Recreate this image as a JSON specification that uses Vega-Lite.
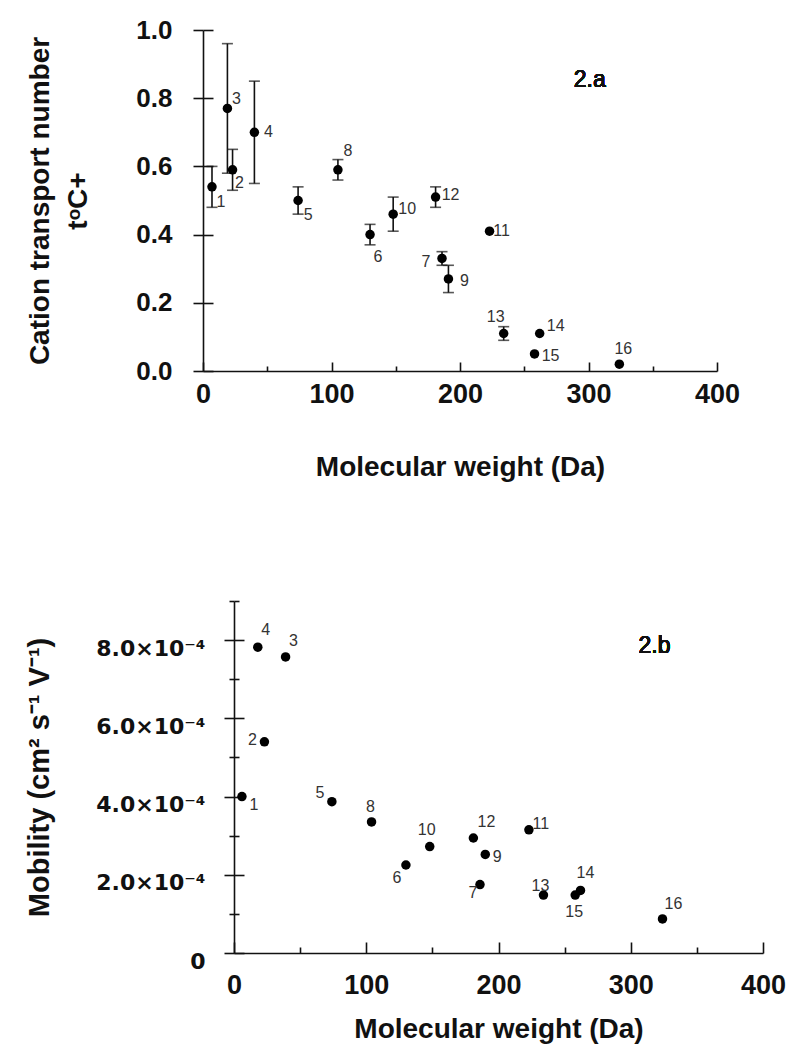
{
  "$schema": "https://vega.github.io/schema/vega-lite/v6.json",
  "background": "white",
  "padding": {"left": 25, "top": 17, "right": 5, "bottom": 5},
  "spacing": 117,
  "config": {
    "view": {"stroke": null},
    "font": "Liberation Sans",
    "axis": {"grid": false, "domainColor": "#111", "tickColor": "#111", "domainWidth": 1.6, "tickWidth": 1.6, "labelColor": "#111", "titleColor": "#111", "labelFont": "Liberation Sans", "titleFont": "Liberation Sans", "labelFontWeight": "bold", "titleFontWeight": "bold", "labelOverlap": false, "labelFlush": false},
    "text": {"font": "Liberation Sans", "fontSize": 16, "fontWeight": "normal", "color": "#333", "align": "center", "baseline": "middle"}
  },
  "datasets": {
    "transport": [
      {"id": 1, "mw": 7, "t": 0.54, "lo": 0.48, "hi": 0.60},
      {"id": 2, "mw": 23, "t": 0.59, "lo": 0.53, "hi": 0.65},
      {"id": 3, "mw": 19, "t": 0.77, "lo": 0.58, "hi": 0.96},
      {"id": 4, "mw": 40, "t": 0.70, "lo": 0.55, "hi": 0.85},
      {"id": 5, "mw": 74, "t": 0.50, "lo": 0.46, "hi": 0.54},
      {"id": 6, "mw": 130, "t": 0.40, "lo": 0.37, "hi": 0.43},
      {"id": 7, "mw": 186, "t": 0.33, "lo": 0.31, "hi": 0.35},
      {"id": 8, "mw": 105, "t": 0.59, "lo": 0.56, "hi": 0.62},
      {"id": 9, "mw": 191, "t": 0.27, "lo": 0.23, "hi": 0.31},
      {"id": 10, "mw": 148, "t": 0.46, "lo": 0.41, "hi": 0.51},
      {"id": 11, "mw": 223, "t": 0.41, "lo": null, "hi": null},
      {"id": 12, "mw": 181, "t": 0.51, "lo": 0.48, "hi": 0.54},
      {"id": 13, "mw": 234, "t": 0.11, "lo": 0.09, "hi": 0.13},
      {"id": 14, "mw": 262, "t": 0.11, "lo": null, "hi": null},
      {"id": 15, "mw": 258, "t": 0.05, "lo": null, "hi": null},
      {"id": 16, "mw": 324, "t": 0.02, "lo": null, "hi": null}
    ],
    "mobility": [
      {"id": 1, "mw": 6, "mobility": 0.000400},
      {"id": 2, "mw": 23, "mobility": 0.000540},
      {"id": 3, "mw": 39, "mobility": 0.000757},
      {"id": 4, "mw": 18, "mobility": 0.000782},
      {"id": 5, "mw": 74, "mobility": 0.000387},
      {"id": 6, "mw": 130, "mobility": 0.000225},
      {"id": 7, "mw": 186, "mobility": 0.000175},
      {"id": 8, "mw": 104, "mobility": 0.000335},
      {"id": 9, "mw": 190, "mobility": 0.000252},
      {"id": 10, "mw": 148, "mobility": 0.000272},
      {"id": 11, "mw": 223, "mobility": 0.000315},
      {"id": 12, "mw": 181, "mobility": 0.000294},
      {"id": 13, "mw": 234, "mobility": 0.000148},
      {"id": 14, "mw": 262, "mobility": 0.000160},
      {"id": 15, "mw": 258, "mobility": 0.000148},
      {"id": 16, "mw": 324, "mobility": 0.000087}
    ]
  },
  "vconcat": [
    {
      "width": 514,
      "height": 341,
      "data": {"name": "transport"},
      "resolve": {"axis": {"y": "independent"}},
      "layer": [
        {
          "encoding": {
            "x": {"field": "mw", "type": "quantitative", "title": "Molecular weight (Da)",
              "scale": {"domain": [0, 400], "nice": false},
              "axis": {"values": [0, 50, 100, 150, 200, 250, 300, 350, 400],
                "labelExpr": "datum.value % 100 == 0 ? datum.label : ''",
                "tickSize": {"condition": {"test": "datum.value % 100 == 0", "value": -9}, "value": -5},
                "labelPadding": 19, "labelFontSize": 27, "titleFontSize": 28, "titlePadding": 42}},
            "y": {"field": "t", "type": "quantitative", "title": ["Cation transport number", "tᵒC+"],
              "scale": {"domain": [0, 1], "nice": false},
              "axis": {"orient": "left", "values": [0, 0.2, 0.4, 0.6, 0.8, 1.0], "format": ".1f", "tickSize": 10,
                "labelPadding": 21, "labelFontSize": 26, "titleFontSize": 28, "titlePadding": 43, "titleLineHeight": 38}}
          },
          "layer": [
            {"transform": [{"filter": "isValid(datum.lo)"}],
             "mark": {"type": "errorbar", "ticks": {"size": 11, "thickness": 1.6, "color": "#111"}, "rule": {"strokeWidth": 1.6, "color": "#111"}},
             "encoding": {"y": {"field": "lo", "type": "quantitative"}, "y2": {"field": "hi"}}},
            {"mark": {"type": "point", "filled": true, "shape": "circle", "size": 90, "color": "#000", "opacity": 1}},
            {"transform": [{"filter": "datum.id == 1"}], "mark": {"type": "text", "dx": 9, "dy": 15}, "encoding": {"text": {"field": "id"}}},
            {"transform": [{"filter": "datum.id == 2"}], "mark": {"type": "text", "dx": 7, "dy": 13}, "encoding": {"text": {"field": "id"}}},
            {"transform": [{"filter": "datum.id == 3"}], "mark": {"type": "text", "dx": 9, "dy": -9}, "encoding": {"text": {"field": "id"}}},
            {"transform": [{"filter": "datum.id == 4"}], "mark": {"type": "text", "dx": 14, "dy": 0}, "encoding": {"text": {"field": "id"}}},
            {"transform": [{"filter": "datum.id == 5"}], "mark": {"type": "text", "dx": 10, "dy": 14}, "encoding": {"text": {"field": "id"}}},
            {"transform": [{"filter": "datum.id == 6"}], "mark": {"type": "text", "dx": 8, "dy": 22}, "encoding": {"text": {"field": "id"}}},
            {"transform": [{"filter": "datum.id == 7"}], "mark": {"type": "text", "dx": -16, "dy": 4}, "encoding": {"text": {"field": "id"}}},
            {"transform": [{"filter": "datum.id == 8"}], "mark": {"type": "text", "dx": 10, "dy": -19}, "encoding": {"text": {"field": "id"}}},
            {"transform": [{"filter": "datum.id == 9"}], "mark": {"type": "text", "dx": 16, "dy": 2}, "encoding": {"text": {"field": "id"}}},
            {"transform": [{"filter": "datum.id == 10"}], "mark": {"type": "text", "dx": 14, "dy": -5}, "encoding": {"text": {"field": "id"}}},
            {"transform": [{"filter": "datum.id == 11"}], "mark": {"type": "text", "dx": 12, "dy": 0}, "encoding": {"text": {"field": "id"}}},
            {"transform": [{"filter": "datum.id == 12"}], "mark": {"type": "text", "dx": 15, "dy": -2}, "encoding": {"text": {"field": "id"}}},
            {"transform": [{"filter": "datum.id == 13"}], "mark": {"type": "text", "dx": -8, "dy": -16}, "encoding": {"text": {"field": "id"}}},
            {"transform": [{"filter": "datum.id == 14"}], "mark": {"type": "text", "dx": 16, "dy": -7}, "encoding": {"text": {"field": "id"}}},
            {"transform": [{"filter": "datum.id == 15"}], "mark": {"type": "text", "dx": 16, "dy": 2}, "encoding": {"text": {"field": "id"}}},
            {"transform": [{"filter": "datum.id == 16"}], "mark": {"type": "text", "dx": 4, "dy": -15}, "encoding": {"text": {"field": "id"}}},
            {"mark": {"type": "text", "fontSize": 23, "fontWeight": "normal", "color": "#111"},
             "encoding": {"x": {"datum": 301}, "y": {"datum": 0.854}, "text": {"value": "2.a"}}}
          ]
        },
        {
          "mark": {"type": "point", "opacity": 0},
          "encoding": {
            "x": {"field": "mw", "type": "quantitative"},
            "y": {"field": "t", "type": "quantitative",
              "axis": {"orient": "left", "values": [0, 0.2, 0.4, 0.6, 0.8, 1.0], "tickSize": -10, "labels": false, "domain": false, "title": null}}
          }
        }
      ]
    },
    {
      "width": 560,
      "height": 352,
      "data": {"name": "mobility"},
      "resolve": {"axis": {"y": "independent"}},
      "layer": [
        {
          "encoding": {
            "x": {"field": "mw", "type": "quantitative", "title": "Molecular weight (Da)",
              "scale": {"domain": [0, 400], "range": [31, 560], "nice": false},
              "axis": {"values": [0, 50, 100, 150, 200, 250, 300, 350, 400],
                "labelExpr": "datum.value % 100 == 0 ? datum.label : ''",
                "tickSize": {"condition": {"test": "datum.value % 100 == 0", "value": -11}, "value": -6},
                "labelPadding": 30, "labelFontSize": 27, "titleFontSize": 28, "titlePadding": 12}},
            "y": {"field": "mobility", "type": "quantitative", "title": "Mobility (cm² s⁻¹ V⁻¹)",
              "scale": {"domain": [0, 0.0009], "nice": false},
              "axis": {"orient": "left", "offset": -31, "values": [0, 0.0001, 0.0002, 0.0003, 0.0004, 0.0005, 0.0006, 0.0007, 0.0008, 0.0009],
                "labelExpr": "datum.value == 0 ? '0' : (round(datum.value * 10000) % 2 == 0 ? format(datum.value * 10000, '.1f') + '×10⁻⁴' : '')",
                "tickSize": {"condition": {"test": "round(datum.value * 10000) % 2 == 0", "value": 10}, "value": 5},
                "labelFont": "DejaVu Sans", "labelPadding": 19, "labelOffset": 8, "labelFontSize": 22, "titleFontSize": 29, "titlePadding": 41}}
          },
          "layer": [
            {"mark": {"type": "point", "filled": true, "shape": "circle", "size": 90, "color": "#000", "opacity": 1}},
            {"transform": [{"filter": "datum.id == 1"}], "mark": {"type": "text", "dx": 12, "dy": 8}, "encoding": {"text": {"field": "id"}}},
            {"transform": [{"filter": "datum.id == 2"}], "mark": {"type": "text", "dx": -12, "dy": -2}, "encoding": {"text": {"field": "id"}}},
            {"transform": [{"filter": "datum.id == 3"}], "mark": {"type": "text", "dx": 8, "dy": -16}, "encoding": {"text": {"field": "id"}}},
            {"transform": [{"filter": "datum.id == 4"}], "mark": {"type": "text", "dx": 8, "dy": -17}, "encoding": {"text": {"field": "id"}}},
            {"transform": [{"filter": "datum.id == 5"}], "mark": {"type": "text", "dx": -12, "dy": -9}, "encoding": {"text": {"field": "id"}}},
            {"transform": [{"filter": "datum.id == 6"}], "mark": {"type": "text", "dx": -9, "dy": 13}, "encoding": {"text": {"field": "id"}}},
            {"transform": [{"filter": "datum.id == 7"}], "mark": {"type": "text", "dx": -7, "dy": 8}, "encoding": {"text": {"field": "id"}}},
            {"transform": [{"filter": "datum.id == 8"}], "mark": {"type": "text", "dx": -1, "dy": -15}, "encoding": {"text": {"field": "id"}}},
            {"transform": [{"filter": "datum.id == 9"}], "mark": {"type": "text", "dx": 12, "dy": 3}, "encoding": {"text": {"field": "id"}}},
            {"transform": [{"filter": "datum.id == 10"}], "mark": {"type": "text", "dx": -3, "dy": -17}, "encoding": {"text": {"field": "id"}}},
            {"transform": [{"filter": "datum.id == 11"}], "mark": {"type": "text", "dx": 12, "dy": -6}, "encoding": {"text": {"field": "id"}}},
            {"transform": [{"filter": "datum.id == 12"}], "mark": {"type": "text", "dx": 13, "dy": -16}, "encoding": {"text": {"field": "id"}}},
            {"transform": [{"filter": "datum.id == 13"}], "mark": {"type": "text", "dx": -3, "dy": -9}, "encoding": {"text": {"field": "id"}}},
            {"transform": [{"filter": "datum.id == 14"}], "mark": {"type": "text", "dx": 5, "dy": -17}, "encoding": {"text": {"field": "id"}}},
            {"transform": [{"filter": "datum.id == 15"}], "mark": {"type": "text", "dx": -1, "dy": 17}, "encoding": {"text": {"field": "id"}}},
            {"transform": [{"filter": "datum.id == 16"}], "mark": {"type": "text", "dx": 11, "dy": -15}, "encoding": {"text": {"field": "id"}}},
            {"mark": {"type": "text", "fontSize": 23, "fontWeight": "normal", "color": "#111"},
             "encoding": {"x": {"datum": 318}, "y": {"datum": 0.000786}, "text": {"value": "2.b"}}}
          ]
        },
        {
          "mark": {"type": "point", "opacity": 0},
          "encoding": {
            "x": {"field": "mw", "type": "quantitative"},
            "y": {"field": "mobility", "type": "quantitative",
              "axis": {"orient": "left", "offset": -31, "values": [0, 0.0001, 0.0002, 0.0003, 0.0004, 0.0005, 0.0006, 0.0007, 0.0008, 0.0009],
                "tickSize": {"condition": {"test": "round(datum.value * 10000) % 2 == 0", "value": -10}, "value": -5},
                "labels": false, "domain": false, "title": null}}
          }
        }
      ]
    }
  ]
}
